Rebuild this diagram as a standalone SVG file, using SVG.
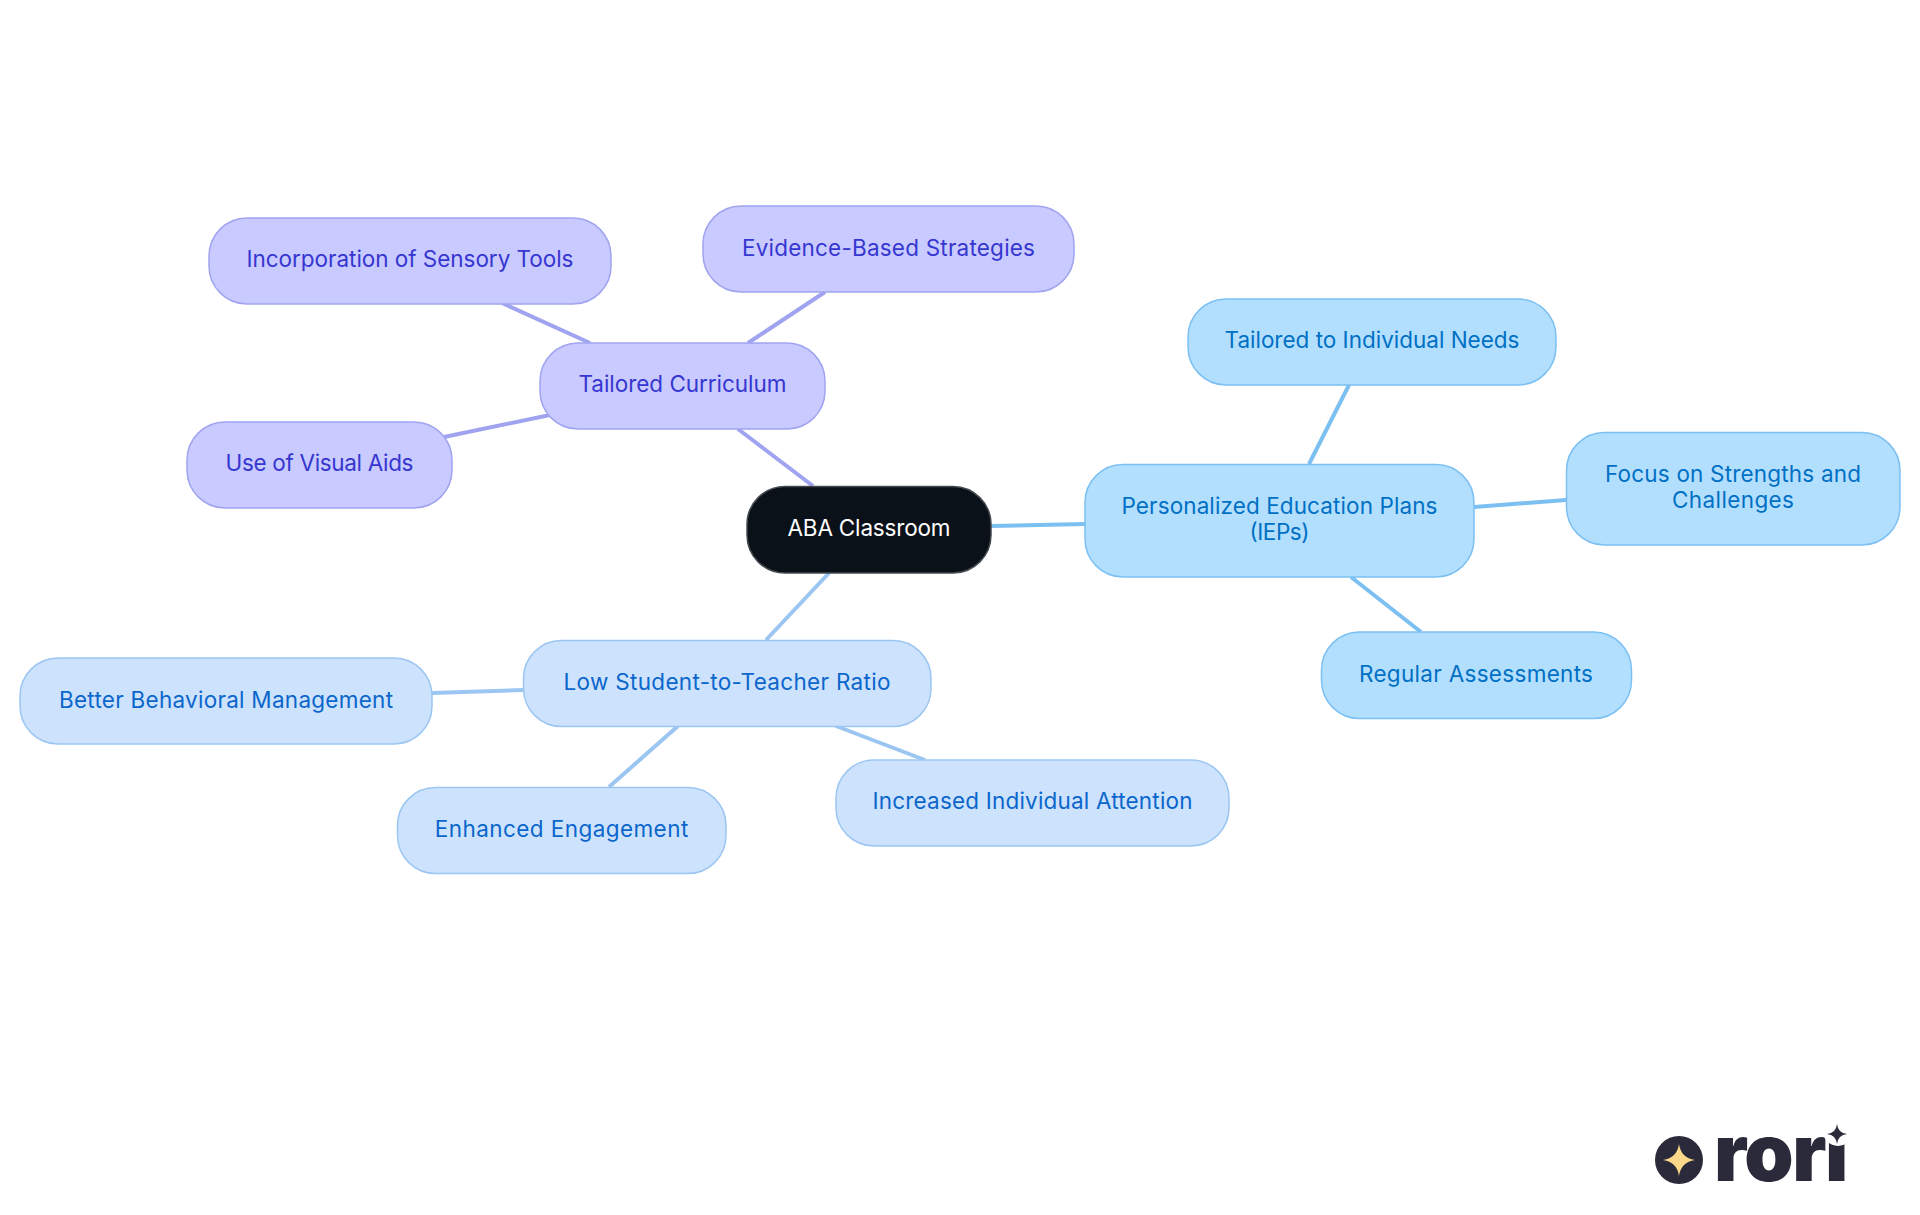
<svg xmlns="http://www.w3.org/2000/svg" width="1920" height="1215" viewBox="0 0 1920 1215">
<style>
text{font-family:"Inter","Liberation Sans",sans-serif;font-size:22.5px;font-weight:400;text-anchor:middle}
rect.n{stroke-width:1.5}
.c line{stroke-width:4}
.a rect{fill:#c9caff;stroke:#a0a4f0}.a text{fill:#3636d0}
.b rect{fill:#cde3fd;stroke:#9cc6f2}.b text{fill:#0b66cc}
.d rect{fill:#b3dfff;stroke:#7cc0f2}.d text{fill:#0070c4}
#logo text{font-weight:900;font-size:79px;text-anchor:start;fill:#2a2a3a}
</style>
<rect width="1920" height="1215" fill="#fff"/>
<g class="c" id="connectors">
<g stroke="#a0a4f0"><line x1="738" y1="429" x2="813" y2="486"/><line x1="502" y1="303" x2="590" y2="343"/><line x1="825" y1="292" x2="748" y2="343"/><line x1="444" y1="437" x2="550" y2="415"/></g>
<g stroke="#9cc6f2"><line x1="829" y1="573" x2="766" y2="640"/><line x1="432" y1="693" x2="523" y2="690"/><line x1="678" y1="726" x2="609" y2="787"/><line x1="836" y1="726" x2="925" y2="760"/></g>
<g stroke="#7cc0f2"><line x1="991" y1="526" x2="1085" y2="524"/><line x1="1349" y1="385" x2="1309" y2="464"/><line x1="1474" y1="507" x2="1566" y2="500"/><line x1="1351" y1="577" x2="1421" y2="632"/></g>
</g>
<g id="n-root"><rect x="747" y="486.500" width="244" height="86.500" rx="38" fill="#0b1119" stroke="#444a50" stroke-width="1.500"/><text x="869" y="535.500" fill="#fff" textLength="163">ABA Classroom</text></g>
<g id="n-curriculum" class="a"><rect class="n" x="540" y="343" width="285" height="86" rx="38"/><text x="682.500" y="392" textLength="208">Tailored Curriculum</text></g>
<g id="n-evidence" class="a"><rect class="n" x="703" y="206" width="371" height="86" rx="38"/><text x="888.500" y="256" textLength="293">Evidence-Based Strategies</text></g>
<g id="n-sensory" class="a"><rect class="n" x="209" y="218" width="402" height="86" rx="38"/><text x="410" y="267" textLength="327">Incorporation of Sensory Tools</text></g>
<g id="n-visual" class="a"><rect class="n" x="187" y="422" width="265" height="86" rx="38"/><text x="319.500" y="471" textLength="188">Use of Visual Aids</text></g>
<g id="n-ratio" class="b"><rect class="n" x="523.500" y="640.500" width="407.500" height="86" rx="38"/><text x="727" y="690" textLength="327">Low Student-to-Teacher Ratio</text></g>
<g id="n-behavior" class="b"><rect class="n" x="20" y="658" width="412" height="86" rx="38"/><text x="226" y="707.500" textLength="334">Better Behavioral Management</text></g>
<g id="n-engagement" class="b"><rect class="n" x="397.500" y="787.500" width="328.500" height="86" rx="38"/><text x="561.500" y="837" textLength="253.500">Enhanced Engagement</text></g>
<g id="n-attention" class="b"><rect class="n" x="836" y="760" width="393" height="86" rx="38"/><text x="1032.500" y="809" textLength="320">Increased Individual Attention</text></g>
<g id="n-ieps" class="d"><rect class="n" x="1085" y="464.500" width="389" height="112.500" rx="38"/><text x="1279.500" y="514" textLength="316">Personalized Education Plans</text><text x="1279.500" y="540" textLength="60">(IEPs)</text></g>
<g id="n-needs" class="d"><rect class="n" x="1188" y="299" width="368" height="86" rx="38"/><text x="1372" y="348" textLength="295">Tailored to Individual Needs</text></g>
<g id="n-focus" class="d"><rect class="n" x="1566.500" y="432.500" width="333.500" height="112.500" rx="38"/><text x="1733" y="482" textLength="256">Focus on Strengths and</text><text x="1733" y="508" textLength="122">Challenges</text></g>
<g id="n-regular" class="d"><rect class="n" x="1321.500" y="632" width="310" height="86.500" rx="38"/><text x="1476" y="682" textLength="234">Regular Assessments</text></g>
<g id="logo"><circle cx="1679" cy="1160" r="24" fill="#2a2a3a"/><path d="M1679 1144q2 14 16 16q-14 2-16 16q-2-14-16-16q14-2 16-16z" fill="#fcd98a"/><text x="1714" y="1181" letter-spacing="-1.500">rori</text><circle cx="1838" cy="1131" r="15" fill="#fff"/><path d="M1837 1124q1 9 10 10q-9 1-10 10q-1-9-10-10q9-1 10-10z" fill="#2a2a3a"/></g>
</svg>
